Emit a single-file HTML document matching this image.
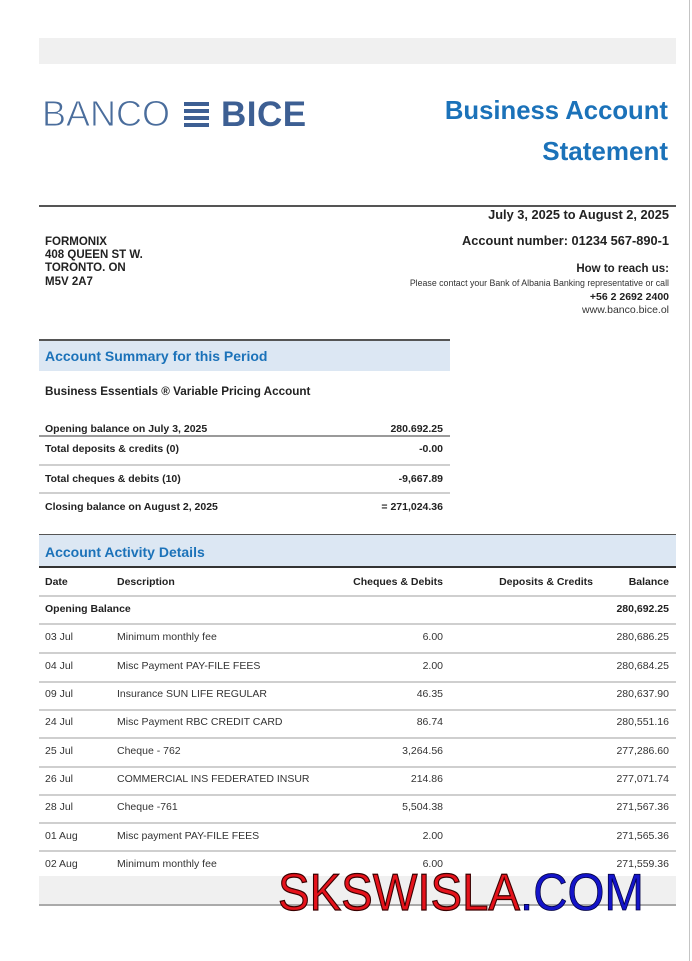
<!DOCTYPE html>
<html><head><meta charset="utf-8">
<style>
html,body{margin:0;padding:0;}
body{width:692px;height:961px;background:#fff;position:relative;overflow:hidden;font-family:"Liberation Sans",Arial,sans-serif;color:#222;}
.a{position:absolute;white-space:nowrap;line-height:1;}
.r{text-align:right;}
.b{font-weight:bold;}
.t{font-size:10.5px;color:#333;}
.ln{position:absolute;height:2px;background:#cfcfcf;}
</style></head><body>
<div style="position:absolute;left:689px;top:0;width:1px;height:961px;background:#c4c4c4;"></div>
<div style="position:absolute;left:39px;top:38px;width:637px;height:26px;background:#f0f0f0;"></div>

<!-- logo -->
<div class="a" style="left:42px;top:96px;font-size:36px;color:#4a6d9c;-webkit-text-stroke:0.9px #fff;">BANCO</div>
<div style="position:absolute;left:184px;top:102px;width:25px;height:4px;background:#3d5f93;"></div>
<div style="position:absolute;left:184px;top:109px;width:25px;height:4px;background:#3d5f93;"></div>
<div style="position:absolute;left:184px;top:116px;width:25px;height:4px;background:#3d5f93;"></div>
<div style="position:absolute;left:184px;top:123px;width:25px;height:4px;background:#3d5f93;"></div>
<div class="a b" style="left:221px;top:97px;font-size:35px;color:#3d5f93;letter-spacing:0.5px;">BICE</div>

<div class="a b r" style="right:24px;top:99px;font-size:25.7px;color:#1b72b9;">Business Account</div>
<div class="a b r" style="right:24px;top:138px;font-size:26px;color:#1b72b9;">Statement</div>

<div style="position:absolute;left:39px;top:205px;width:637px;height:2px;background:#555;"></div>

<div class="a b r" style="right:23px;top:209px;font-size:12.8px;">July 3, 2025 to August 2, 2025</div>
<div class="a b r" style="right:23px;top:235px;font-size:12.8px;">Account number: 01234 567-890-1</div>
<div class="a b r" style="right:23px;top:264px;font-size:11.5px;">How to reach us:</div>
<div class="a r" style="right:23px;top:279px;font-size:8.8px;color:#333;">Please contact your Bank of Albania Banking representative or call</div>
<div class="a b r" style="right:23px;top:292px;font-size:10.5px;">+56 2 2692 2400</div>
<div class="a r" style="right:23px;top:305px;font-size:10.5px;color:#333;">www.banco.bice.ol</div>

<div class="a b" style="left:45px;top:237px;font-size:11.5px;">FORMONIX</div>
<div class="a b" style="left:45px;top:250px;font-size:11.5px;">408 QUEEN ST W.</div>
<div class="a b" style="left:45px;top:263px;font-size:11.5px;">TORONTO. ON</div>
<div class="a b" style="left:45px;top:277px;font-size:11.5px;">M5V 2A7</div>

<!-- summary -->
<div style="position:absolute;left:39px;top:339px;width:411px;height:32px;background:#dce7f3;border-top:2px solid #555;box-sizing:border-box;"></div>
<div class="a b" style="left:45px;top:349px;font-size:14px;color:#1b72b9;">Account Summary for this Period</div>
<div class="a b" style="left:45px;top:386px;font-size:11.7px;">Business Essentials ® Variable Pricing Account</div>

<div class="a b" style="left:45px;top:424px;font-size:10.5px;">Opening balance on July 3, 2025</div>
<div class="a b r" style="left:300px;width:143px;top:424px;font-size:10.5px;">280.692.25</div>
<div class="ln" style="left:39px;top:435px;width:411px;background:#9a9a9a;height:1.5px;"></div>
<div class="a b" style="left:45px;top:444px;font-size:10.5px;">Total deposits &amp; credits (0)</div>
<div class="a b r" style="left:300px;width:143px;top:444px;font-size:10.5px;">-0.00</div>
<div class="ln" style="left:39px;top:464px;width:411px;"></div>
<div class="a b" style="left:45px;top:474px;font-size:10.5px;">Total cheques &amp; debits (10)</div>
<div class="a b r" style="left:300px;width:143px;top:474px;font-size:10.5px;">-9,667.89</div>
<div class="ln" style="left:39px;top:492px;width:411px;"></div>
<div class="a b" style="left:45px;top:502px;font-size:10.5px;">Closing balance on August 2, 2025</div>
<div class="a b r" style="left:300px;width:143px;top:502px;font-size:10.5px;">= 271,024.36</div>

<!-- activity -->
<div style="position:absolute;left:39px;top:534px;width:637px;height:34px;background:#dce7f3;border-top:1.5px solid #555;border-bottom:2px solid #333;box-sizing:border-box;"></div>
<div class="a b" style="left:45px;top:545px;font-size:14px;color:#1b72b9;">Account Activity Details</div>

<div class="a b" style="left:45px;top:577px;font-size:10.5px;">Date</div>
<div class="a b" style="left:117px;top:577px;font-size:10.5px;">Description</div>
<div class="a b r" style="left:300px;width:143px;top:577px;font-size:10.5px;">Cheques &amp; Debits</div>
<div class="a b r" style="left:450px;width:143px;top:577px;font-size:10.5px;">Deposits &amp; Credits</div>
<div class="a b r" style="left:560px;width:109px;top:577px;font-size:10.5px;">Balance</div>
<div class="ln" style="left:39px;top:595px;width:637px;"></div>

<div class="a b" style="left:45px;top:604px;font-size:10.5px;">Opening Balance</div>
<div class="a b r" style="left:560px;width:109px;top:604px;font-size:10.5px;">280,692.25</div>
<div class="ln" style="left:39px;top:623px;width:637px;"></div>

<div class="a t" style="left:45px;top:632px;">03 Jul</div>
<div class="a t" style="left:117px;top:632px;">Minimum monthly fee</div>
<div class="a t r" style="left:300px;width:143px;top:632px;">6.00</div>
<div class="a t r" style="left:560px;width:109px;top:632px;">280,686.25</div>
<div class="ln" style="left:39px;top:652px;width:637px;"></div>

<div class="a t" style="left:45px;top:661px;">04 Jul</div>
<div class="a t" style="left:117px;top:661px;">Misc Payment PAY-FILE FEES</div>
<div class="a t r" style="left:300px;width:143px;top:661px;">2.00</div>
<div class="a t r" style="left:560px;width:109px;top:661px;">280,684.25</div>
<div class="ln" style="left:39px;top:681px;width:637px;"></div>

<div class="a t" style="left:45px;top:689px;">09 Jul</div>
<div class="a t" style="left:117px;top:689px;">Insurance SUN LIFE REGULAR</div>
<div class="a t r" style="left:300px;width:143px;top:689px;">46.35</div>
<div class="a t r" style="left:560px;width:109px;top:689px;">280,637.90</div>
<div class="ln" style="left:39px;top:709px;width:637px;"></div>

<div class="a t" style="left:45px;top:717px;">24 Jul</div>
<div class="a t" style="left:117px;top:717px;">Misc Payment RBC CREDIT CARD</div>
<div class="a t r" style="left:300px;width:143px;top:717px;">86.74</div>
<div class="a t r" style="left:560px;width:109px;top:717px;">280,551.16</div>
<div class="ln" style="left:39px;top:737px;width:637px;"></div>

<div class="a t" style="left:45px;top:746px;">25 Jul</div>
<div class="a t" style="left:117px;top:746px;">Cheque - 762</div>
<div class="a t r" style="left:300px;width:143px;top:746px;">3,264.56</div>
<div class="a t r" style="left:560px;width:109px;top:746px;">277,286.60</div>
<div class="ln" style="left:39px;top:766px;width:637px;"></div>

<div class="a t" style="left:45px;top:774px;">26 Jul</div>
<div class="a t" style="left:117px;top:774px;">COMMERCIAL INS FEDERATED INSUR</div>
<div class="a t r" style="left:300px;width:143px;top:774px;">214.86</div>
<div class="a t r" style="left:560px;width:109px;top:774px;">277,071.74</div>
<div class="ln" style="left:39px;top:794px;width:637px;"></div>

<div class="a t" style="left:45px;top:802px;">28 Jul</div>
<div class="a t" style="left:117px;top:802px;">Cheque -761</div>
<div class="a t r" style="left:300px;width:143px;top:802px;">5,504.38</div>
<div class="a t r" style="left:560px;width:109px;top:802px;">271,567.36</div>
<div class="ln" style="left:39px;top:822px;width:637px;"></div>

<div class="a t" style="left:45px;top:831px;">01 Aug</div>
<div class="a t" style="left:117px;top:831px;">Misc payment PAY-FILE FEES</div>
<div class="a t r" style="left:300px;width:143px;top:831px;">2.00</div>
<div class="a t r" style="left:560px;width:109px;top:831px;">271,565.36</div>
<div class="ln" style="left:39px;top:850px;width:637px;"></div>

<div class="a t" style="left:45px;top:859px;">02 Aug</div>
<div class="a t" style="left:117px;top:859px;">Minimum monthly fee</div>
<div class="a t r" style="left:300px;width:143px;top:859px;">6.00</div>
<div class="a t r" style="left:560px;width:109px;top:859px;">271,559.36</div>

<div style="position:absolute;left:39px;top:876px;width:637px;height:28px;background:#f0f0f0;border-bottom:2px solid #aaa;"></div>

<!-- watermark -->
<svg style="position:absolute;left:0;top:0;" width="692" height="961">
<text x="278" y="910" font-family="Liberation Sans, sans-serif" font-size="52" fill="#e5121b" stroke="#3a0000" stroke-width="1.2" textLength="242" lengthAdjust="spacingAndGlyphs">SKSWISLA</text>
<text x="520" y="910" font-family="Liberation Sans, sans-serif" font-size="52" fill="#1414c8" stroke="#000040" stroke-width="0.8" textLength="124" lengthAdjust="spacingAndGlyphs">.COM</text>
</svg>
</body></html>
